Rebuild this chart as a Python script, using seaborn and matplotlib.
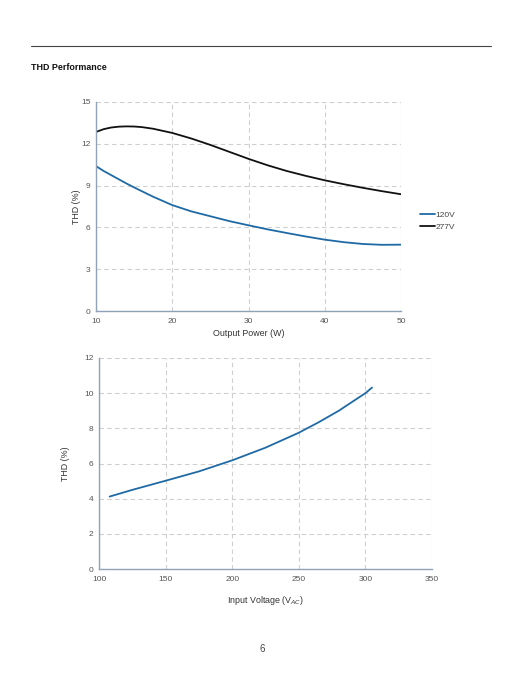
import seaborn as sns
import matplotlib.pyplot as plt
import pandas as pd

# Values
power_w = [10, 11, 12, 13, 14, 15, 16, 17.5, 20, 22.5, 25, 27.5, 30, 32.5, 35, 37.5, 40, 42.5, 45, 47.5, 50]
thd_120v = [10.4, 10.05, 9.75, 9.45, 9.15, 8.87, 8.6, 8.2, 7.6, 7.15, 6.8, 6.45, 6.15, 5.86, 5.6, 5.35, 5.12, 4.94, 4.81, 4.75, 4.76]
thd_277v = [12.85, 13.05, 13.17, 13.23, 13.25, 13.24, 13.2, 13.08, 12.78, 12.38, 11.92, 11.42, 10.92, 10.46, 10.05, 9.7, 9.38, 9.1, 8.84, 8.6, 8.38]

voltage_vac = [108, 125, 150, 175, 200, 225, 250, 265, 280, 290, 300, 305]
thd_vs_voltage = [4.12, 4.5, 5.02, 5.55, 6.18, 6.9, 7.75, 8.35, 9.0, 9.5, 10.0, 10.32]

blue = '#1f6aa5'
spine_col = '#8fa2b6'
tick_col = '#555555'

sns.set_style('white')
plt.rcParams['font.family'] = ['Liberation Sans', 'DejaVu Sans']

df_top = pd.DataFrame({
    'Output Power (W)': power_w * 2,
    'THD (%)': thd_120v + thd_277v,
    'Series': ['120V'] * len(power_w) + ['277V'] * len(power_w),
})
df_bot = pd.DataFrame({'Input Voltage': voltage_vac, 'THD (%)': thd_vs_voltage})

fig = plt.figure(figsize=(5.22, 6.76), dpi=100)
W, H = 522, 676

def place(l, t, r, b):
    return fig.add_axes([l / W, 1 - b / H, (r - l) / W, (b - t) / H])

def style(ax):
    for s in ['top', 'right']:
        ax.spines[s].set_visible(False)
    for s in ['left', 'bottom']:
        ax.spines[s].set_color(spine_col)
        ax.spines[s].set_linewidth(1.0)
    ax.grid(True, color='#cfcfcf', linestyle=(0, (4, 3)), linewidth=0.8)
    ax.set_axisbelow(True)
    ax.tick_params(axis='both', labelsize=6, colors=tick_col, length=3, width=0.6, pad=2)
    ax.tick_params(axis='y', length=0, pad=4)

# header rule and title
fig.add_artist(plt.Line2D([31 / W, 491 / W], [1 - 46 / H, 1 - 46 / H], color='#444444', lw=0.8))
fig.text(31 / W, 1 - 68 / H, 'THD Performance', fontsize=6.4, fontweight='bold', va='center', color='#111111')

# top chart
ax1 = place(96, 102, 401, 311)
sns.lineplot(data=df_top, x='Output Power (W)', y='THD (%)', hue='Series',
             palette={'120V': blue, '277V': '#111111'}, linewidth=1.3, ax=ax1)
ax1.set_xlim(10, 50)
ax1.set_ylim(0, 15)
ax1.set_xticks([10, 20, 30, 40, 50])
ax1.set_yticks([0, 3, 6, 9, 12, 15])
style(ax1)
ax1.set_xlabel('Output Power (W)', fontsize=6.4, color='#333333', labelpad=3)
ax1.set_ylabel('THD (%)', fontsize=6.4, color='#333333', labelpad=0)
leg = ax1.legend(loc='center left', bbox_to_anchor=(1.05, 0.43), frameon=False, fontsize=6,
                 handlelength=1.8, handletextpad=0.15, labelspacing=0.55, borderaxespad=0)
for t in leg.get_texts():
    t.set_color('#444444')

# bottom chart
ax2 = place(99, 358, 432, 569)
sns.lineplot(data=df_bot, x='Input Voltage', y='THD (%)', color=blue, linewidth=1.3, ax=ax2)
ax2.set_xlim(100, 350)
ax2.set_ylim(0, 12)
ax2.set_xticks([100, 150, 200, 250, 300, 350])
ax2.set_yticks([0, 2, 4, 6, 8, 10, 12])
style(ax2)
ax2.set_xlabel('Input Voltage (V$_{AC}$)', fontsize=6.4, color='#333333', labelpad=8)
ax2.set_ylabel('THD (%)', fontsize=6.4, color='#333333', labelpad=10)

fig.text(262 / W, 1 - 649 / H, '6', fontsize=7, ha='center', va='center', color='#444444')

fig.savefig('out.png', dpi=100)
